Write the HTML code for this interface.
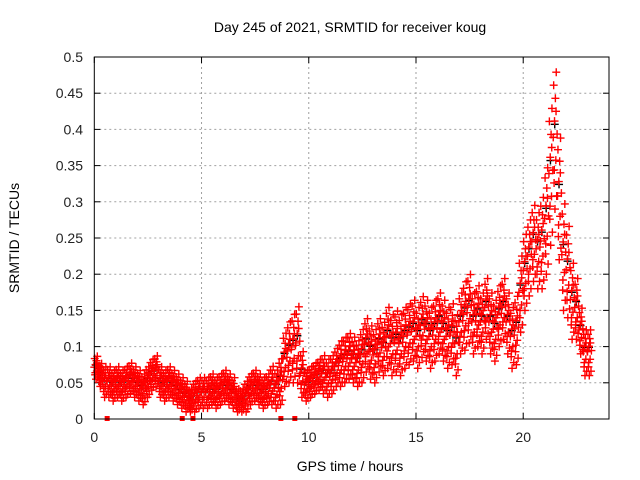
<!DOCTYPE html>
<html><head><meta charset="utf-8"><style>
body{margin:0;background:#fff;}
svg{display:block;font-family:"Liberation Sans",sans-serif;}
</style></head><body>
<svg id="chart" width="640" height="480" viewBox="0 0 640 480">
<text x="350" y="32" font-size="14" text-anchor="middle">Day 245 of 2021, SRMTID for receiver koug</text>
<text transform="translate(19,238) rotate(-90)" font-size="14" text-anchor="middle">SRMTID / TECUs</text>
<text x="350" y="471" font-size="14" text-anchor="middle">GPS time / hours</text>
<g id="grid"></g><g id="ticks"></g><g id="pts"></g>
<rect x="94.3" y="57" width="514.7" height="362" fill="none" stroke="#000" stroke-width="1"/>
</svg>
<script>
const xTicks=[0,5,10,15,20];
const yTicks=[0,0.05,0.1,0.15,0.2,0.25,0.3,0.35,0.4,0.45,0.5];
const yTickLabels=["0","0.05","0.1","0.15","0.2","0.25","0.3","0.35","0.4","0.45","0.5"];
const stepHours=0.2;
const midVals=[0.07,0.06,0.05,0.05,0.045,0.05,0.045,0.05,0.055,0.05,0.045,0.04,0.05,0.06,0.065,0.05,0.045,0.05,0.045,0.04,0.035,0.03,0.025,0.03,0.035,0.035,0.035,0.04,0.035,0.04,0.045,0.04,0.035,0.025,0.025,0.03,0.04,0.045,0.04,0.035,0.04,0.045,0.04,0.05,0.08,0.09,0.095,0.1,0.06,0.045,0.05,0.055,0.06,0.06,0.055,0.06,0.07,0.075,0.08,0.085,0.08,0.075,0.085,0.1,0.09,0.085,0.1,0.095,0.11,0.1,0.105,0.1,0.11,0.115,0.12,0.11,0.125,0.12,0.11,0.12,0.13,0.12,0.11,0.115,0.1,0.13,0.14,0.15,0.13,0.14,0.13,0.15,0.13,0.12,0.14,0.15,0.13,0.11,0.12,0.17,0.2,0.22,0.24,0.23,0.24,0.27,0.33,0.38,0.3,0.22,0.2,0.16,0.15,0.12,0.09,0.09];
const spreadVals=[0.015,0.015,0.02,0.02,0.02,0.02,0.02,0.02,0.02,0.02,0.02,0.02,0.02,0.02,0.02,0.02,0.02,0.02,0.02,0.02,0.02,0.02,0.015,0.02,0.02,0.02,0.02,0.02,0.02,0.02,0.02,0.02,0.02,0.015,0.015,0.02,0.02,0.02,0.02,0.02,0.02,0.025,0.025,0.03,0.035,0.04,0.045,0.05,0.03,0.02,0.02,0.02,0.02,0.025,0.025,0.025,0.025,0.03,0.03,0.03,0.03,0.03,0.035,0.035,0.035,0.035,0.035,0.035,0.04,0.04,0.04,0.04,0.04,0.04,0.04,0.04,0.04,0.04,0.04,0.04,0.04,0.04,0.04,0.04,0.04,0.04,0.045,0.045,0.04,0.04,0.04,0.04,0.04,0.04,0.04,0.04,0.04,0.04,0.045,0.05,0.05,0.05,0.05,0.05,0.06,0.07,0.09,0.09,0.08,0.07,0.06,0.05,0.04,0.03,0.03,0.03];
const flagHours=[0.6,4.1,4.6,8.7,9.35];
const NS="http://www.w3.org/2000/svg";
const X=t=>94.3+t*(514.7/24), Y=v=>419-v*(362/0.5);
function mk(tag,at,parent){const e=document.createElementNS(NS,tag);for(const k in at)e.setAttribute(k,at[k]);parent.appendChild(e);return e;}
const grid=document.getElementById('grid'),ticks=document.getElementById('ticks'),pts=document.getElementById('pts');
xTicks.forEach(t=>{
 if(t>0){const g=mk('line',{x1:X(t),x2:X(t),y1:57,y2:419,stroke:'#a0a0a0','stroke-dasharray':'2,3'},grid);
 
 }
 mk('line',{x1:X(t),x2:X(t),y1:419,y2:413,stroke:'#000'},ticks);
 mk('line',{x1:X(t),x2:X(t),y1:57,y2:63,stroke:'#000'},ticks);
 const l=mk('text',{x:X(t),y:442,'font-size':14,'text-anchor':'middle',fill:'#222'},ticks);l.textContent=t;
 
 
});
yTicks.forEach((v,i)=>{
 if(v>0&&v<0.5){const g=mk('line',{x1:94.3,x2:609,y1:Y(v),y2:Y(v),stroke:'#a0a0a0','stroke-dasharray':'2,3'},grid);
 
 }
 mk('line',{x1:94.3,x2:100.3,y1:Y(v),y2:Y(v),stroke:'#000'},ticks);
 mk('line',{x1:603,x2:609,y1:Y(v),y2:Y(v),stroke:'#000'},ticks);
 const l=mk('text',{x:83,y:Y(v)+5,'font-size':14,'text-anchor':'end',fill:'#222'},ticks);l.textContent=yTickLabels[i];
 
 
});
function plus(t,v,c,name){
 const x=X(t),y=Y(v);
 const p=mk('path',{d:`M${x-4},${y}h8M${x},${y-4}v8`,stroke:c,'stroke-width':1.4,fill:'none'},pts);
 
 
}
const offs=[[0,0.1],[0.02,0.9],[0.04,-0.6],[0.06,0.35],[0.08,-1],[0.1,0.7],[0.12,-0.25],[0.14,1.1],[0.16,-0.8],[0.18,0.15],[0.05,-0.4],[0.13,0.5]];
midVals.forEach((m,i)=>{const s=spreadVals[i],t=i*stepHours;
 plus(t+0.07,m+s*0.3,'#000','black-point');});
midVals.forEach((m,i)=>{const s=spreadVals[i],t=i*stepHours;
 offs.forEach(o=>plus(t+o[0],Math.max(0.008,m+s*o[1]),'#ff0000','red-point'));});
flagHours.forEach(t=>{const r=mk('rect',{x:X(t)-2.5,y:416,width:5,height:5,fill:'#ff0000'},pts);
 
 });
</script>
</body></html>
